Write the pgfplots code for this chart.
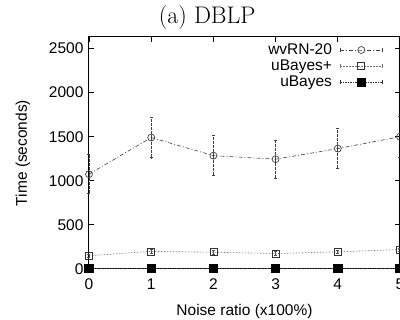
\documentclass[border=0pt]{standalone}
\usepackage{fontspec}
\usepackage{pgfplots}
\pgfplotsset{compat=1.18}
\newfontfamily\arial{Liberation Sans}
\begin{document}
\begin{tikzpicture}
\begin{axis}[
  at={(0,0)}, anchor=south west,
  scale only axis,
  width=311pt, height=232pt,
  xmin=0, xmax=5, ymin=0, ymax=2630,
  xtick={0,1,2,3,4,5},
  ytick={0,500,1000,1500,2000,2500},
  tick align=inside,
  major tick length=5pt,
  axis line style={line width=1pt},
  every tick/.style={line width=0.9pt, black},
  /pgf/number format/assume math mode=true,
  /pgf/number format/1000 sep={},
  tick label style={font=\arial\fontsize{15.5}{17}\selectfont},
  xticklabel style={yshift=-6pt},
  yticklabel style={xshift=-2pt},
  label style={font=\arial\fontsize{15.5}{17}\selectfont},
  xlabel={Noise ratio (x100\%)},
  xlabel style={yshift=-8pt},
  ylabel={Time (seconds)},
  ylabel style={yshift=12pt},
  title={(a) DBLP},
  title style={font=\fontsize{24}{26}\selectfont, at={(rel axis cs:0.38,1)}, anchor=south, yshift=-2pt},
  legend style={draw=none, fill=none, at={(rel axis cs:0.945,0.98)}, anchor=north east,
    font=\arial\fontsize{15.5}{15}\selectfont, row sep=0pt, inner sep=0pt,
    /tikz/every odd column/.append style={column sep=6pt}},
  legend cell align=right,
  legend plot pos=right,
  legend image code/.code={%
    \draw[mark repeat=2, mark phase=2] plot coordinates {(0pt,0pt) (21pt,0pt) (42pt,0pt)};
    \draw[solid, line width=0.7pt] (0pt,-2pt) -- (0pt,2pt) (42pt,-2pt) -- (42pt,2pt);
  },
  clip=false,
]
\addplot[color=black!75, line width=0.6pt, dash pattern=on 4pt off 2pt on 1pt off 2pt,
  mark=o, mark size=3.5pt, mark options={solid, line width=0.7pt, fill=white},
  error bars/.cd, y dir=both, y explicit, error mark options={rotate=90, mark size=1.5pt, line width=0.8pt},
  error bar style={line width=0.8pt, dash pattern=on 3pt off 1pt}]
coordinates {
(0,1075) +- (0,220)
(1,1490) +- (0,230)
(2,1285) +- (0,225)
(3,1245) +- (0,215)
(4,1365) +- (0,225)
(5,1500) +- (0,230)
};
\addlegendentry{wvRN-20}
\addplot[color=black!55, line width=0.6pt, dash pattern=on 1.5pt off 1.5pt,
  mark=square, mark size=3.5pt, mark options={solid, line width=0.7pt, draw=black!80, fill=white},
  error bars/.cd, y dir=both, y explicit, error mark options={rotate=90, mark size=1.5pt, line width=0.6pt, black!70},
  error bar style={line width=0.6pt, black!70}]
coordinates {
(0,150) +- (0,15)
(1,200) +- (0,20)
(2,190) +- (0,20)
(3,175) +- (0,20)
(4,195) +- (0,20)
(5,220) +- (0,20)
};
\addlegendentry{uBayes+}
\addplot[color=black!80, line width=0.7pt, dash pattern=on 1.5pt off 1pt,
  mark=square*, mark size=4.2pt, mark options={solid, fill=black, draw=black}]
coordinates {
(0,5) (1,5) (2,5) (3,5) (4,5) (5,5)
};
\addlegendentry{uBayes}
\end{axis}
\pgfresetboundingbox
\useasboundingbox (-89pt,-51pt) rectangle (311pt,269pt);
\end{tikzpicture}
\end{document}
